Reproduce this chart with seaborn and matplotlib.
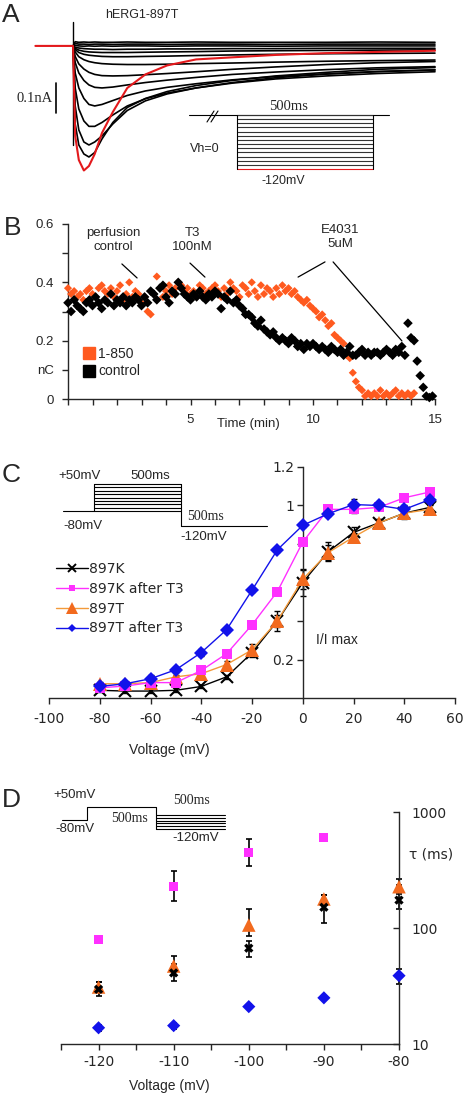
import numpy as np
import pandas as pd
import seaborn as sns
import matplotlib.pyplot as plt
from matplotlib.lines import Line2D
from matplotlib.ticker import NullLocator

sns.set_style("ticks")
plt.rcParams['font.family'] = ['Liberation Sans', 'DejaVu Sans']
plt.rcParams['axes.linewidth'] = 1.0
plt.rcParams['axes.unicode_minus'] = False

# ---------------- data ----------------
# A: current traces (nA) sampled at trace_t (ms)
trace_t = [0, 3, 8, 15, 22, 30, 40, 55, 75, 100, 130, 170, 220, 280, 350, 420, 500]
black_traces = [
    [0, 0.014, 0.012, 0.013, 0.012, 0.013, 0.012, 0.012, 0.013, 0.012, 0.012, 0.013, 0.012, 0.012, 0.012, 0.013, 0.012],
    [0, 0.008, 0.006, 0.006, 0.005, 0.006, 0.006, 0.005, 0.006, 0.006, 0.005, 0.006, 0.006, 0.005, 0.006, 0.006, 0.006],
    [0, 0.002, 0.000, -0.001, 0.000, -0.001, 0.000, -0.001, 0.000, 0.000, -0.001, 0.000, 0.000, -0.001, 0.000, 0.000, 0.000],
    [0, -0.004, -0.007, -0.009, -0.010, -0.011, -0.011, -0.012, -0.011, -0.011, -0.010, -0.010, -0.009, -0.009, -0.008, -0.008, -0.008],
    [0, -0.008, -0.014, -0.018, -0.020, -0.021, -0.022, -0.022, -0.022, -0.021, -0.020, -0.019, -0.017, -0.016, -0.015, -0.014, -0.013],
    [0, -0.012, -0.022, -0.028, -0.031, -0.033, -0.035, -0.036, -0.036, -0.035, -0.034, -0.032, -0.030, -0.028, -0.026, -0.025, -0.024],
    [0, -0.020, -0.036, -0.046, -0.052, -0.056, -0.059, -0.061, -0.062, -0.062, -0.061, -0.059, -0.057, -0.054, -0.051, -0.049, -0.047],
    [0, -0.035, -0.060, -0.077, -0.088, -0.095, -0.099, -0.100, -0.099, -0.096, -0.092, -0.086, -0.078, -0.070, -0.062, -0.056, -0.052],
    [0, -0.055, -0.090, -0.115, -0.130, -0.138, -0.140, -0.137, -0.130, -0.122, -0.114, -0.105, -0.095, -0.087, -0.079, -0.073, -0.069],
    [0, -0.090, -0.140, -0.175, -0.195, -0.200, -0.195, -0.182, -0.165, -0.150, -0.138, -0.126, -0.113, -0.102, -0.093, -0.086, -0.080],
    [0, -0.140, -0.210, -0.250, -0.268, -0.268, -0.255, -0.230, -0.200, -0.176, -0.157, -0.140, -0.124, -0.110, -0.100, -0.092, -0.086],
    [0, -0.200, -0.280, -0.320, -0.330, -0.320, -0.300, -0.260, -0.215, -0.183, -0.160, -0.140, -0.122, -0.106, -0.094, -0.085, -0.080],
    [0, -0.260, -0.330, -0.360, -0.370, -0.355, -0.310, -0.255, -0.205, -0.175, -0.152, -0.132, -0.115, -0.100, -0.088, -0.078, -0.072],
]
red_t = [-52, 0, 3, 8, 15, 22, 30, 40, 55, 75, 100, 130, 170, 220, 280, 350, 420, 500]
red_i = [0, 0, -0.30, -0.38, -0.415, -0.40, -0.36, -0.29, -0.22, -0.14, -0.095, -0.065,
         -0.045, -0.038, -0.030, -0.024, -0.020, -0.016]
spike_t = [0, 0]
spike_i = [0.08, -0.33]

# B: charge (nC) every 7.5 s
q_control = [
    0.33, 0.30, 0.34, 0.32, 0.31, 0.30, 0.33, 0.34,
    0.32, 0.35, 0.33, 0.31, 0.34, 0.33, 0.36, 0.32,
    0.34, 0.33, 0.35, 0.32, 0.34, 0.33, 0.35, 0.34,
    0.32, 0.35, 0.33, 0.37, 0.36, 0.34, 0.38, 0.39,
    0.35, 0.33, 0.37, 0.36, 0.40, 0.38, 0.36, 0.35,
    0.34, 0.36, 0.35, 0.37, 0.35, 0.34, 0.36, 0.35,
    0.37, 0.36, 0.31, 0.35, 0.34, 0.37, 0.33, 0.34,
    0.32, 0.31, 0.29, 0.29, 0.28, 0.26, 0.25, 0.27,
    0.24, 0.23, 0.22, 0.23, 0.21, 0.20, 0.21, 0.20,
    0.19, 0.21, 0.20, 0.18, 0.19, 0.17, 0.19, 0.18,
    0.19, 0.18, 0.17, 0.18, 0.17, 0.16, 0.18, 0.17,
    0.16, 0.17, 0.15, 0.16, 0.18, 0.15, 0.15, 0.16,
    0.17, 0.15, 0.16, 0.15, 0.16, 0.16, 0.15, 0.16,
    0.17, 0.16, 0.15, 0.17, 0.16, 0.18, 0.15, 0.26,
    0.21, 0.20, 0.13, 0.08, 0.04, 0.01, 0.005, 0.01]
q_1850 = [
    0.38, 0.36, 0.37, 0.35, 0.36, 0.34, 0.37, 0.38,
    0.36, 0.35, 0.38, 0.39, 0.37, 0.36, 0.38, 0.35,
    0.37, 0.39, 0.34, 0.36, 0.40, 0.35, 0.37, 0.36,
    0.33, 0.35, 0.30, 0.29, 0.36, 0.42, 0.38, 0.35,
    0.37, 0.39, 0.36, 0.38, 0.40, 0.39, 0.37, 0.38,
    0.36, 0.37, 0.35, 0.39, 0.38, 0.36, 0.37, 0.38,
    0.39, 0.37, 0.35, 0.38, 0.36, 0.40, 0.38, 0.37,
    0.35, 0.39, 0.38, 0.36, 0.40, 0.37, 0.35, 0.39,
    0.36, 0.38, 0.37, 0.35, 0.38, 0.36, 0.39, 0.37,
    0.38, 0.36, 0.37, 0.35, 0.34, 0.33, 0.34, 0.32,
    0.31, 0.30, 0.28, 0.29, 0.27, 0.25, 0.26, 0.22,
    0.21, 0.20, 0.19, 0.15, 0.14, 0.09, 0.06, 0.04,
    0.03, 0.01, 0.02, 0.01, 0.02, 0.01, 0.03, 0.01,
    0.02, 0.01, 0.02, 0.03, 0.01, 0.02, 0.01, 0.02,
    0.01, 0.02]
sample_min = 7.5 / 60

# C: normalised activation
volt_c = [-80, -70, -60, -50, -40, -30, -20, -10, 0, 10, 20, 30, 40, 50]
act_897K = [0.04, 0.036, 0.036, 0.04, 0.06, 0.11, 0.235, 0.40, 0.60, 0.76, 0.86, 0.91, 0.96, 0.99]
act_897K_T3 = [0.053, 0.062, 0.08, 0.08, 0.143, 0.23, 0.38, 0.553, 0.81, 0.98, 0.98, 0.99, 1.04, 1.07]
act_897T = [0.074, 0.074, 0.08, 0.11, 0.126, 0.174, 0.25, 0.40, 0.617, 0.755, 0.836, 0.91, 0.96, 0.98]
act_897T_T3 = [0.06, 0.074, 0.10, 0.147, 0.236, 0.355, 0.56, 0.77, 0.897, 0.957, 1.005, 1.0, 0.98, 1.03]
err_897K = [0.01, 0.01, 0.01, 0.01, 0.01, 0.01, 0.02, 0.03, 0.07, 0.05, 0.03, 0.02, 0.03, 0.03]
err_897K_T3 = [0.01, 0.01, 0.01, 0.01, 0.01, 0.01, 0.01, 0.01, 0.01, 0.01, 0.02, 0.01, 0.01, 0.01]
err_897T = [0.01, 0.01, 0.01, 0.01, 0.02, 0.02, 0.03, 0.05, 0.05, 0.04, 0.02, 0.02, 0.02, 0.02]
err_897T_T3 = [0.01, 0.01, 0.02, 0.01, 0.02, 0.01, 0.01, 0.01, 0.01, 0.01, 0.03, 0.02, 0.02, 0.02]

# D: deactivation time constants (ms)
volt_d = [-120, -110, -100, -90, -80]
tau_897K = [29.6, 41, 67, 151, 174]
tau_897K_lo = [3.7, 6, 11, 40, 29]
tau_897K_hi = [4.6, 8, 11, 41, 60]
tau_897K_T3 = [80, 227, 450, 603, np.nan]
tau_897K_T3_lo = [0, 57, 106, 0, 0]
tau_897K_T3_hi = [0, 83, 135, 0, 0]
tau_897T = [31, 47, 106, 178, 227]
tau_897T_lo = [3, 8, 20, 20, 30]
tau_897T_hi = [3, 10, 40, 15, 40]
tau_897T_T3 = [13.8, 14.4, 21, 25, 38.8]
tau_897T_T3_lo = [0.8, 0.8, 1, 1, 5.8]
tau_897T_T3_hi = [0.8, 0.8, 1, 1, 5.2]

BLACK, MAGENTA, ORANGE, ORANGE_LINE, BLUE, RED = 'black', '#ff30ff', '#f26a1e', '#f39a3a', '#1212ea', '#e3191c'
B_ORANGE = '#ff5a1f'

# ---------------- layout ----------------
W, H = 467, 1094
fig = plt.figure(figsize=(W / 100, H / 100), dpi=100)


def box(l, t, r, b):
    return [l / W, 1 - b / H, (r - l) / W, (b - t) / H]


# ---- A ----
axA = fig.add_axes(box(33.2, 18, 438.6, 178))
dfA = pd.DataFrame([(t, v, k) for k, tr in enumerate(black_traces) for t, v in zip(trace_t, tr)],
                   columns=['t', 'I', 'trace'])
sns.lineplot(data=dfA, x='t', y='I', units='trace', estimator=None, sort=False,
             color=BLACK, lw=1.2, ax=axA)
sns.lineplot(x=spike_t, y=spike_i, estimator=None, sort=False, color=BLACK, lw=1.0, ax=axA)
sns.lineplot(x=red_t, y=red_i, estimator=None, sort=False, color=RED, lw=1.5, ax=axA)
axA.plot([-23.5, -23.5], [-0.123, -0.223], color='k', lw=1.2)  # 0.1 nA scale bar
axA.set_xlim(-55, 505)
axA.set_ylim(-0.44, 0.093)
axA.axis('off')

# ---- B ----
axB = fig.add_axes(box(68, 224, 435.5, 399))
t_1850 = np.arange(len(q_1850)) * sample_min
t_control = np.arange(len(q_control)) * sample_min
sns.scatterplot(x=t_1850, y=q_1850, marker='D', s=17, color=B_ORANGE, edgecolor='none',
                ax=axB, clip_on=False, zorder=3)
sns.scatterplot(x=t_control, y=q_control, marker='D', s=24, color=BLACK, edgecolor='none',
                ax=axB, clip_on=False, zorder=4)
axB.set_xlim(0, 15)
axB.set_ylim(0, 0.6)
sns.despine(ax=axB)
axB.set_yticks([0, 0.1, 0.2, 0.3, 0.4, 0.5, 0.6])
axB.set_yticklabels(['0', 'nC', '0.2', '', '0.4', '', '0.6'])
axB.set_xticks(range(16))
axB.set_xticklabels(['5' if i == 5 else '10' if i == 10 else '15' if i == 15 else '' for i in range(16)])
axB.tick_params(axis='both', length=4, width=1, labelsize=9.5)
axB.tick_params(axis='y', pad=6)
axB.tick_params(axis='x', pad=7)
axB.set_xlabel('')
axB.set_ylabel('')
axB.legend([Line2D([], [], marker='s', ls='none', color=B_ORANGE, markersize=8),
            Line2D([], [], marker='s', ls='none', color=BLACK, markersize=8)],
           ['1-850', 'control'], loc='upper left', bbox_to_anchor=(83 / W, 1 - 347 / H),
           bbox_transform=fig.transFigure, frameon=False, borderpad=0, borderaxespad=0,
           handlelength=0.8, handletextpad=0.3, labelspacing=0.25, fontsize=10)
for txt, xy in [('perfusion\ncontrol', (1.84, 0.545)), ('T3\n100nM', (5.06, 0.545)),
                ('E4031\n5uM', (11.1, 0.555))]:
    axB.text(*xy, txt, ha='center', va='center', fontsize=9.5, linespacing=1.3)
for xs, ys in [([2.2, 2.82], [0.463, 0.415]), ([4.98, 5.59], [0.466, 0.418]),
               ([10.49, 9.39], [0.47, 0.418]), ([10.82, 13.63], [0.47, 0.199])]:
    axB.plot(xs, ys, color='k', lw=0.9)

# ---- C ----
axC = fig.add_axes(box(49, 467, 455, 698))
series_c = [
    (act_897K, err_897K, BLACK, BLACK, 'x', 8, dict(mew=1.5)),
    (act_897T, err_897T, ORANGE_LINE, ORANGE, '^', 9.5, dict(mew=0)),
    (act_897K_T3, err_897K_T3, MAGENTA, MAGENTA, 's', 6.5, dict(mew=0)),
    (act_897T_T3, err_897T_T3, BLUE, BLUE, 'D', 7.5, dict(mew=0)),
]
for vals, err, lc, mc, mk, ms, extra in series_c:
    axC.errorbar(volt_c, vals, yerr=err, fmt='none', ecolor='k', elinewidth=1, capsize=2.5,
                 capthick=1, zorder=2, clip_on=False)
for vals, err, lc, mc, mk, ms, extra in series_c:
    sns.lineplot(x=volt_c, y=vals, color=lc, lw=1.0, marker=mk, markersize=ms, mfc=mc, mec=mc,
                 ax=axC, clip_on=False, zorder=3, **extra)
axC.set_xlim(-100, 60)
axC.set_ylim(0, 1.2)
sns.despine(ax=axC)
axC.spines['left'].set_position(('data', 0))
axC.set_xticks(range(-100, 61, 20))
axC.set_yticks([0.2, 0.4, 0.6, 0.8, 1.0, 1.2])
axC.set_yticklabels(['0.2', '', '', '', '1', '1.2'])
axC.tick_params(axis='both', length=4, width=1, labelsize=10, labelfontfamily='DejaVu Sans')
axC.tick_params(axis='x', pad=6)
axC.tick_params(axis='y', pad=2)
leg_c = [
    Line2D([], [], color=BLACK, lw=1, marker='x', markersize=6, mew=1.4),
    Line2D([], [], color=MAGENTA, lw=1, marker='s', markersize=4.5, mew=0),
    Line2D([], [], color=ORANGE_LINE, lw=1, marker='^', markersize=8, mfc=ORANGE, mew=0),
    Line2D([], [], color=BLUE, lw=1, marker='D', markersize=4, mew=0),
]
axC.legend(leg_c, ['897K', '897K after T3', '897T', '897T after T3'], loc='upper left',
           bbox_to_anchor=(56 / W, 1 - 562 / H), bbox_transform=fig.transFigure, frameon=False,
           borderpad=0, borderaxespad=0, handlelength=2.3, handletextpad=0.1, labelspacing=0.42,
           prop={'family': 'DejaVu Sans', 'size': 10})

# ---- D ----
axD = fig.add_axes(box(61, 812, 399, 1044))
axD.set_yscale('log')
series_d = [
    (tau_897K_T3, tau_897K_T3_lo, tau_897K_T3_hi, MAGENTA, 's', 40),
    (tau_897T, tau_897T_lo, tau_897T_hi, ORANGE, '^', 95),
    (tau_897K, tau_897K_lo, tau_897K_hi, BLACK, 'X', 45),
    (tau_897T_T3, tau_897T_T3_lo, tau_897T_T3_hi, BLUE, 'D', 45),
]
for vals, lo, hi, col, mk, s in series_d:
    axD.errorbar(volt_d, vals, yerr=[lo, hi], fmt='none', ecolor='k', elinewidth=1.2,
                 capsize=2.5, capthick=1.2, zorder=2, clip_on=False)
for vals, lo, hi, col, mk, s in series_d:
    sns.scatterplot(x=volt_d, y=vals, marker=mk, s=s, color=col, edgecolor='none', ax=axD,
                    clip_on=False, zorder=3)
axD.set_xlim(-125, -80)
axD.set_ylim(10, 1000)
axD.yaxis.set_minor_locator(NullLocator())
axD.yaxis.tick_right()
axD.spines['left'].set_visible(False)
axD.spines['top'].set_visible(False)
axD.set_yticks([10, 100, 1000])
axD.set_yticklabels(['10', '100', '1000'])
axD.set_xticks(range(-125, -79, 5))
axD.set_xticklabels([str(v) if v % 10 == 0 else '' for v in range(-125, -79, 5)])
axD.tick_params(axis='both', length=4, width=1, labelsize=10, labelfontfamily='DejaVu Sans')
axD.tick_params(axis='y', direction='in', pad=9)
axD.tick_params(axis='x', pad=4)

# ---- overlay: labels and protocol sketches (pixel coordinates) ----
ov = fig.add_axes([0, 0, 1, 1], facecolor='none')
ov.set_xlim(0, W)
ov.set_ylim(H, 0)
ov.axis('off')
for letter, xy in [('A', (11, 15)), ('B', (13, 228)), ('C', (11, 475)), ('D', (11, 800))]:
    ov.text(*xy, letter, fontsize=19, ha='center', va='center')

serif = ['Liberation Serif', 'DejaVu Serif']
texts = [
    ('hERG1-897T', (142, 15), 9, None), ('0.1nA', (53, 98), 10.5, serif),
    ('500ms', (289, 107), 10.5, serif), ('Vh=0', (205, 149), 9, None), ('-120mV', (283, 181), 9, None),
    ('Time (min)', (248, 424), 9.5, None),
    ('+50mV', (80, 476), 9.5, None), ('500ms', (150, 476), 9.5, None), ('-80mV', (83, 526), 9.5, None),
    ('500ms', (205, 517), 10, serif), ('-120mV', (204, 537), 9.5, None),
    ('I/I max', (337, 640), 10, None), ('Voltage (mV)', (169, 750), 10, None),
    ('+50mV', (75, 795), 9.5, None), ('500ms', (192, 800), 10, serif), ('500ms', (130, 818), 10, serif),
    ('-80mV', (75, 829), 9.5, None), ('-120mV', (196, 838), 9.5, None),
    ('τ (ms)', (431, 855), 10, ['DejaVu Sans']), ('Voltage (mV)', (169, 1086), 10, None),
]
for txt, (x, y), fs, fam in texts:
    kw = {'family': fam} if fam else {}
    ha = 'right' if txt == '0.1nA' else 'center'
    ov.text(x, y, txt, fontsize=fs, ha=ha, va='center', **kw)

lw_p = 0.8
# A protocol: holding 0 mV, 14 steps to -120 mV
ov.plot([189, 389], [115, 115], color='k', lw=lw_p)
a_levels = np.linspace(115, 169, 14)
for i, y in enumerate(a_levels):
    ov.plot([237, 373], [y, y], color=RED if i == len(a_levels) - 1 else '#333333', lw=lw_p)
ov.plot([237, 237], [115, 169], color='k', lw=lw_p)
ov.plot([373, 373], [115, 169], color='k', lw=lw_p)
ov.plot([207, 214], [122, 111], color='k', lw=lw_p)
ov.plot([211, 218], [122, 111], color='k', lw=lw_p)

# C protocol: -80 mV, steps to +50 mV, tail -120 mV
ov.plot([63, 94], [511, 511], color='k', lw=lw_p)
for y in np.linspace(484, 511, 9):
    ov.plot([94, 181], [y, y], color='k', lw=lw_p)
ov.plot([94, 94], [484, 511], color='k', lw=lw_p)
ov.plot([181, 181], [484, 526], color='k', lw=lw_p)
ov.plot([181, 267], [526, 526], color='k', lw=lw_p)

# D protocol: +50 mV prepulse, tails to -120 mV
ov.plot([62, 87, 87, 156, 156], [820, 820, 807, 807, 829], color='k', lw=lw_p)
for y in np.linspace(815, 829, 6):
    ov.plot([156, 225], [y, y], color='k', lw=lw_p)

fig.savefig('out.png', dpi=100)
